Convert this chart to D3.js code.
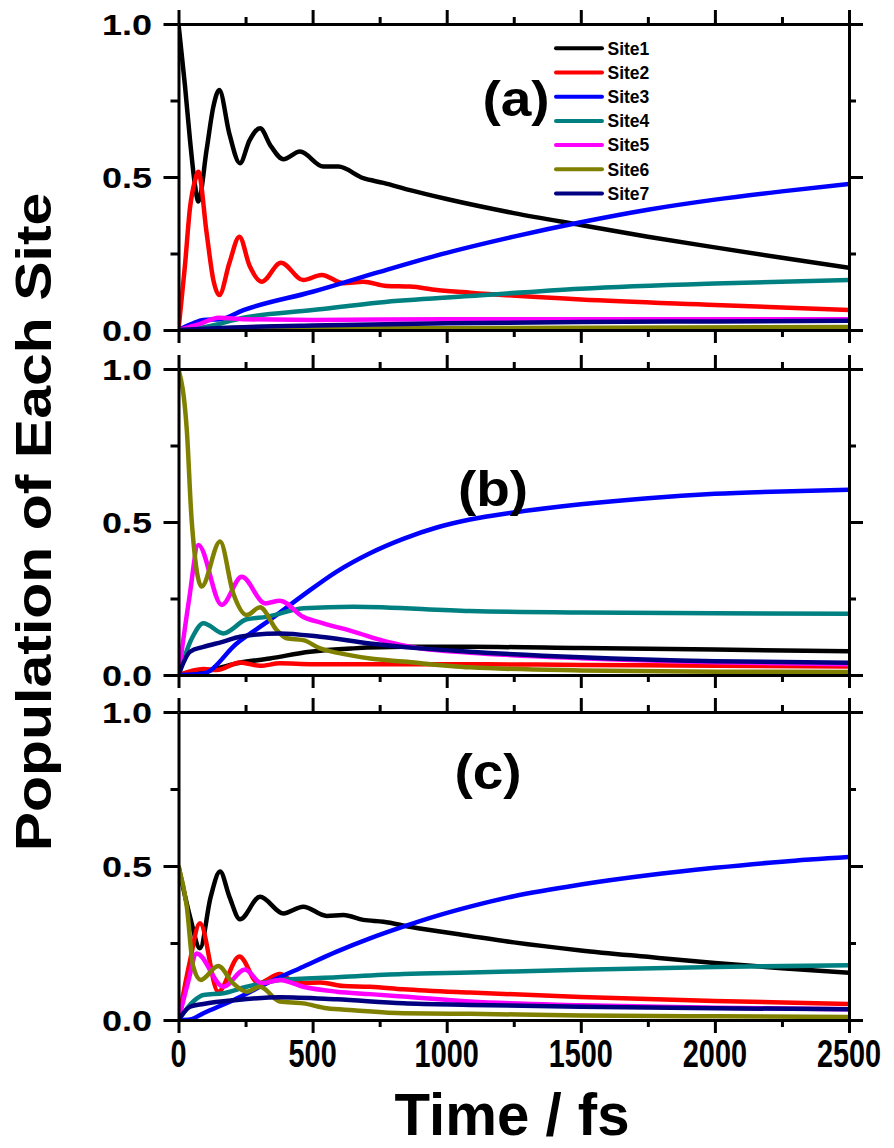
<!DOCTYPE html>
<html><head><meta charset="utf-8">
<script src="https://cdnjs.cloudflare.com/ajax/libs/d3/7.8.5/d3.min.js"></script>
<style>html,body{margin:0;padding:0;background:#fff;}svg{display:block;}</style>
</head><body>
<script>
// ---------- DATA ----------
const siteNames = ["Site1","Site2","Site3","Site4","Site5","Site6","Site7"];
const siteColors = ["#000000","#FF0000","#0000FF","#008080","#FF00FF","#808000","#000080"];
const panelLabels = ["(a)","(b)","(c)"];
const xTicks = [0,500,1000,1500,2000,2500];
const yTicks = [0,0.5,1.0];
const yTickLabels = ["0.0","0.5","1.0"];

// Panel (a): [time fs, population]
const a1 = [[0,1.0],[24,0.80],[43,0.62],[62,0.47],[74,0.42],[105,0.59],[130,0.73],[152,0.784],[190,0.64],[229,0.545],[265,0.62],[304,0.659],[345,0.60],[391,0.558],[453,0.583],[540,0.534],[596,0.534],[689,0.496],[764,0.481],[863,0.457],[1000,0.428],[1250,0.382],[1500,0.343],[1750,0.305],[2000,0.27],[2250,0.236],[2500,0.203]];
const a2 = [[0,0],[24,0.21],[43,0.40],[62,0.49],[74,0.517],[105,0.316],[130,0.163],[152,0.114],[190,0.22],[227,0.305],[265,0.21],[310,0.158],[382,0.22],[465,0.163],[534,0.18],[615,0.153],[689,0.158],[776,0.144],[863,0.142],[963,0.131],[1087,0.122],[1500,0.10],[2000,0.082],[2500,0.065]];
const a3 = [[0,0],[50,0.02],[93,0.033],[155,0.035],[242,0.065],[500,0.125],[750,0.19],[1000,0.252],[1250,0.305],[1500,0.352],[1750,0.393],[2000,0.426],[2250,0.453],[2500,0.477]];
const a4 = [[0,0],[100,0.01],[242,0.04],[500,0.065],[750,0.09],[1087,0.111],[1500,0.135],[2000,0.152],[2500,0.163]];
const a5 = [[0,0],[80,0.02],[150,0.04],[250,0.035],[500,0.033],[1000,0.035],[1500,0.035],[2000,0.035],[2500,0.035]];
const a6 = [[0,0],[200,0.003],[1000,0.006],[2500,0.01]];
const a7 = [[0,0],[200,0.008],[500,0.015],[1000,0.022],[1500,0.026],[2000,0.028],[2500,0.03]];

// Panel (b)
const b1 = [[0,0],[93,0.01],[217,0.038],[341,0.054],[490,0.076],[652,0.087],[838,0.092],[1087,0.092],[1500,0.088],[2000,0.083],[2500,0.078]];
const b2 = [[0,0],[93,0.02],[143,0.016],[229,0.041],[304,0.03],[378,0.038],[500,0.035],[1087,0.035],[1500,0.033],[2000,0.03],[2500,0.028]];
const b3 = [[0,0],[93,0.005],[217,0.103],[341,0.18],[465,0.261],[590,0.338],[714,0.398],[838,0.445],[963,0.482],[1087,0.508],[1250,0.531],[1500,0.558],[1750,0.578],[2000,0.592],[2250,0.600],[2500,0.605]];
const b4 = [[0,0],[50,0.12],[93,0.169],[167,0.136],[254,0.182],[328,0.19],[465,0.218],[652,0.223],[1087,0.209],[1500,0.204],[2000,0.202],[2500,0.20]];
const b5 = [[0,0],[40,0.25],[74,0.425],[161,0.229],[236,0.321],[323,0.234],[378,0.243],[465,0.19],[540,0.169],[652,0.142],[776,0.109],[900,0.087],[1087,0.073],[1500,0.055],[2000,0.042],[2500,0.035]];
const b6 = [[0,1.0],[31,0.80],[49,0.507],[86,0.289],[155,0.436],[204,0.267],[254,0.196],[304,0.221],[366,0.147],[403,0.12],[465,0.114],[528,0.087],[590,0.073],[714,0.054],[838,0.044],[1087,0.025],[1500,0.015],[2000,0.011],[2500,0.01]];
const b7 = [[0,0],[43,0.076],[93,0.092],[167,0.109],[229,0.125],[378,0.136],[528,0.125],[714,0.103],[900,0.087],[1087,0.076],[1500,0.058],[2000,0.045],[2500,0.04]];

// Panel (c)
const c1 = [[0,0.5],[43,0.335],[80,0.233],[120,0.40],[155,0.482],[190,0.40],[229,0.327],[304,0.40],[391,0.346],[465,0.368],[553,0.338],[615,0.341],[689,0.325],[764,0.319],[863,0.303],[1087,0.273],[1250,0.252],[1500,0.226],[1750,0.205],[2000,0.185],[2250,0.168],[2500,0.153]];
const c2 = [[0,0],[40,0.18],[80,0.314],[148,0.092],[227,0.206],[298,0.119],[378,0.149],[440,0.119],[528,0.122],[615,0.11],[714,0.108],[838,0.10],[1087,0.089],[1500,0.075],[2000,0.062],[2500,0.052]];
const c3 = [[0,0],[43,0.002],[93,0.022],[217,0.07],[341,0.124],[465,0.173],[590,0.222],[714,0.265],[838,0.303],[963,0.338],[1087,0.368],[1250,0.402],[1500,0.44],[1750,0.47],[2000,0.494],[2250,0.514],[2500,0.529]];
const c4 = [[0,0],[55,0.06],[93,0.081],[167,0.087],[254,0.108],[378,0.13],[590,0.139],[838,0.149],[1087,0.154],[1500,0.163],[2000,0.172],[2500,0.178]];
const c5 = [[0,0],[35,0.12],[68,0.216],[167,0.108],[248,0.164],[310,0.119],[378,0.13],[465,0.108],[590,0.092],[714,0.084],[838,0.076],[1087,0.06],[1500,0.048],[2000,0.04],[2500,0.035]];
const c6 = [[0,0.5],[31,0.368],[55,0.173],[83,0.13],[148,0.175],[204,0.119],[254,0.092],[304,0.108],[378,0.06],[465,0.054],[553,0.038],[652,0.032],[838,0.022],[1087,0.02],[1500,0.015],[2000,0.012],[2500,0.01]];
const c7 = [[0,0],[43,0.043],[93,0.052],[217,0.065],[378,0.074],[590,0.067],[838,0.054],[1087,0.049],[1500,0.043],[2000,0.038],[2500,0.035]];

const panelSeries = [[a1,a2,a3,a4,a5,a6,a7],[b1,b2,b3,b4,b5,b6,b7],[c1,c2,c3,c4,c5,c6,c7]];

// ---------- LAYOUT ----------
const W = 894, H = 1148;
const plotLeft = 178.5, plotRight = 849;
const panelTops = [24, 369, 712];
const panelBottoms = [330, 675, 1020];
const labelPos = [[516,116],[493,506],[488,789]];

const svg = d3.select("body").append("svg").attr("width", W).attr("height", H)
  .style("font-family", "'Liberation Sans', Arial, sans-serif").style("font-weight", "bold");

const x = d3.scaleLinear().domain([0,2500]).range([plotLeft, plotRight]);

panelSeries.forEach((series, p) => {
  const y = d3.scaleLinear().domain([0,1]).range([panelBottoms[p], panelTops[p]]);
  const g = svg.append("g");
  const clipId = "clip" + p;
  svg.append("clipPath").attr("id", clipId).append("rect")
    .attr("x", plotLeft).attr("y", panelTops[p] - 3).attr("width", plotRight - plotLeft).attr("height", panelBottoms[p] - panelTops[p] + 3);
  const line = d3.line().x(d => x(d[0])).y(d => y(d[1])).curve(d3.curveMonotoneX);
  const lines = g.append("g").attr("clip-path", `url(#${clipId})`);
  series.forEach((s, i) => {
    lines.append("path").attr("d", line(s)).attr("fill", "none")
      .attr("stroke", siteColors[i]).attr("stroke-width", 4.5).attr("stroke-linejoin", "round");
  });

  const axStyle = sel => { sel.selectAll("path").attr("stroke-width", 3).attr("stroke", "#000");
    sel.selectAll("line").attr("stroke-width", 3).attr("stroke", "#000"); sel.selectAll("text").remove(); };
  const minorX = d3.range(250, 2500, 500);
  const minorY = [0.25, 0.75];
  g.append("g").attr("transform", `translate(0,${panelBottoms[p]})`)
    .call(d3.axisBottom(x).tickValues(xTicks).tickSize(13).tickSizeOuter(0)).call(axStyle);
  g.append("g").attr("transform", `translate(0,${panelBottoms[p]})`)
    .call(d3.axisBottom(x).tickValues(minorX).tickSize(7).tickSizeOuter(0)).call(axStyle).select("path").remove();
  g.append("g").attr("transform", `translate(0,${panelTops[p]})`)
    .call(d3.axisTop(x).tickValues(xTicks).tickSize(14).tickSizeOuter(0)).call(axStyle);
  g.append("g").attr("transform", `translate(0,${panelTops[p]})`)
    .call(d3.axisTop(x).tickValues(minorX).tickSize(7).tickSizeOuter(0)).call(axStyle).select("path").remove();
  g.append("g").attr("transform", `translate(${plotLeft},0)`)
    .call(d3.axisLeft(y).tickValues(yTicks).tickSize(15).tickSizeOuter(0)).call(axStyle);
  g.append("g").attr("transform", `translate(${plotLeft},0)`)
    .call(d3.axisLeft(y).tickValues(minorY).tickSize(8).tickSizeOuter(0)).call(axStyle).select("path").remove();
  g.append("g").attr("transform", `translate(${plotRight},0)`)
    .call(d3.axisRight(y).tickValues(yTicks).tickSize(14).tickSizeOuter(0)).call(axStyle);
  g.append("g").attr("transform", `translate(${plotRight},0)`)
    .call(d3.axisRight(y).tickValues(minorY).tickSize(7).tickSizeOuter(0)).call(axStyle).select("path").remove();

  yTicks.forEach((v, k) => {
    svg.append("text").attr("transform", `translate(152,${y(v) + 11}) scale(1.2,1)`)
      .attr("text-anchor", "end").attr("font-size", 30).text(yTickLabels[k]);
  });

  svg.append("text").attr("transform", `translate(${labelPos[p][0]},${labelPos[p][1]}) scale(1.1,1)`)
    .attr("text-anchor", "middle").attr("font-size", 50).text(panelLabels[p]);

  if (p === 2) {
    xTicks.forEach(t => {
      svg.append("text").attr("transform", `translate(${x(t)},1067) scale(0.76,1)`)
        .attr("text-anchor", "middle").attr("font-size", 38).text(String(t));
    });
  }
});

// legend
const legend = svg.append("g");
siteNames.forEach((n, i) => {
  const ly = 48.3 + i * 24.2;
  legend.append("line").attr("x1", 556).attr("x2", 602).attr("y1", ly).attr("y2", ly)
    .attr("stroke", siteColors[i]).attr("stroke-width", 4).attr("stroke-linecap", "round");
  legend.append("text").attr("x", 607.5).attr("y", ly + 6.3).attr("font-size", 17.5).text(n);
});

// axis titles
svg.append("text").attr("transform", "translate(512,1135) scale(0.97,1)")
  .attr("text-anchor", "middle").attr("font-size", 60).text("Time / fs");
svg.append("text").attr("transform", "translate(51,522) rotate(-90) scale(1.18,1)")
  .attr("text-anchor", "middle").attr("font-size", 50).text("Population of Each Site");
</script>
</body></html>
